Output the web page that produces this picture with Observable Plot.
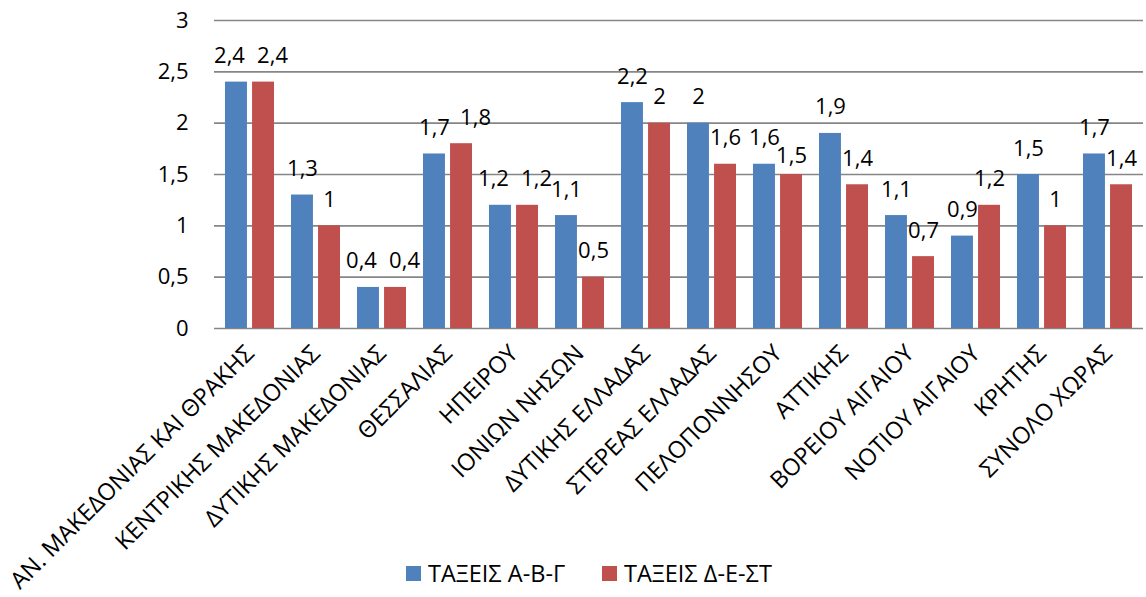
<!DOCTYPE html>
<html><head><meta charset="utf-8">
<script src="https://cdn.jsdelivr.net/npm/d3@7"></script>
<script src="https://cdn.jsdelivr.net/npm/@observablehq/plot@0.6"></script>
<style>
body{margin:0;background:#fff;font-family:"Open Sans",sans-serif;}
#wrap{position:relative;width:1146px;height:597px;}
#wrap svg{position:absolute;left:0;top:0;}
.leg{position:absolute;top:557px;height:32px;display:flex;align-items:center;font-size:23.5px;color:#000;}
.sw{width:15px;height:15px;margin-right:7px;}
</style></head>
<body><div id="wrap"></div>
<script>
const categories = ["ΑΝ. ΜΑΚΕΔΟΝΙΑΣ ΚΑΙ ΘΡΑΚΗΣ","ΚΕΝΤΡΙΚΗΣ ΜΑΚΕΔΟΝΙΑΣ","ΔΥΤΙΚΗΣ ΜΑΚΕΔΟΝΙΑΣ","ΘΕΣΣΑΛΙΑΣ","ΗΠΕΙΡΟΥ","ΙΟΝΙΩΝ ΝΗΣΩΝ","ΔΥΤΙΚΗΣ ΕΛΛΑΔΑΣ","ΣΤΕΡΕΑΣ ΕΛΛΑΔΑΣ","ΠΕΛΟΠΟΝΝΗΣΟΥ","ΑΤΤΙΚΗΣ","ΒΟΡΕΙΟΥ ΑΙΓΑΙΟΥ","ΝΟΤΙΟΥ ΑΙΓΑΙΟΥ","ΚΡΗΤΗΣ","ΣΥΝΟΛΟ ΧΩΡΑΣ"];
const seriesA = [2.4,1.3,0.4,1.7,1.2,1.1,2.2,2.0,1.6,1.9,1.1,0.9,1.5,1.7];
const seriesB = [2.4,1.0,0.4,1.8,1.2,0.5,2.0,1.6,1.5,1.4,0.7,1.2,1.0,1.4];
const seriesNames = ["ΤΑΞΕΙΣ Α-Β-Γ","ΤΑΞΕΙΣ Δ-Ε-ΣΤ"];
const colors = ["#4F81BD","#C0504D"];
const yTicks = [0,0.5,1,1.5,2,2.5,3];

const fmt = v => String(v).replace(".", ",");
// label collision classes: equal values, B slightly higher, B slightly lower, apart
const kind = (a, b) => Math.abs(a - b) < 0.05 ? "eq" : (b > a && b - a < 0.15) ? "bHi" : (a > b && a - b < 0.15) ? "bLo" : "apart";
const rows = categories.map((c,i)=>({cat:c, a:seriesA[i], b:seriesB[i], k: kind(seriesA[i], seriesB[i])}));
const of = k => rows.filter(d => d.k === k);

const W = 1146, H = 597, mL = 214, mR = 3, pI = 0.26, pO = 0.13, gap = 5;
const step = (W - mL - mR) / (categories.length - pI + 2 * pO);
const bw = step * (1 - pI);
const half = (bw - gap) / 2;
const off = (half + gap) / 2;
const labA = {x: "cat", y: "a", text: d => fmt(d.a), dy: -26, fontSize: 22};
const labB = {x: "cat", y: "b", text: d => fmt(d.b), dy: -26, fontSize: 22};

const chart = Plot.plot({
  width: W, height: H,
  marginLeft: mL, marginRight: mR, marginTop: 20, marginBottom: H - 328,
  style: {fontFamily: "Open Sans, sans-serif", fontSize: "22px", color: "#000", background: "#fff"},
  x: {domain: categories, paddingInner: pI, paddingOuter: pO, label: null},
  y: {domain: [0,3], label: null},
  marks: [
    Plot.gridY(yTicks, {stroke: "#868686", strokeOpacity: 1, strokeWidth: 1.6}),
    Plot.barY(rows, {x: "cat", y: "a", fill: colors[0], insetRight: bw - half}),
    Plot.barY(rows, {x: "cat", y: "b", fill: colors[1], insetLeft: bw - half}),
    Plot.text(rows.filter(d => d.k !== "eq"), {...labA, dx: -off}),
    Plot.text(of("eq"), {...labA, dx: -off - 7}),
    Plot.text(of("apart"), {...labB, dx: off}),
    Plot.text(of("eq"), {...labB, dx: off + 9}),
    Plot.text(of("bHi"), {...labB, dx: off + 14}),
    Plot.text(of("bLo"), {...labB, dx: off, dy: -19}),
    Plot.axisY(yTicks, {tickSize: 0, tickPadding: 26, tickFormat: fmt, fontSize: 22, label: null}),
    Plot.axisX({tickRotate: -45, tickSize: 0, tickPadding: 21, fontSize: 23.5, label: null})
  ]
});
const wrap = document.getElementById("wrap");
wrap.appendChild(chart);
const lefts = [406, 602];
seriesNames.forEach((n,i)=>{
  const d = document.createElement("div");
  d.className = "leg"; d.style.left = lefts[i] + "px";
  d.innerHTML = `<span class="sw" style="background:${colors[i]}"></span><span>${n}</span>`;
  wrap.appendChild(d);
});
</script></body></html>
